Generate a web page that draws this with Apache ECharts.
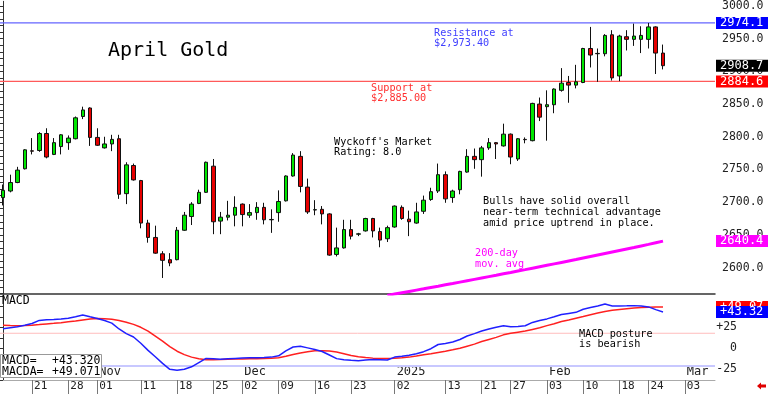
<!DOCTYPE html>
<html><head><meta charset="utf-8">
<script src="https://cdn.jsdelivr.net/npm/echarts@6/dist/echarts.min.js"></script>
<style>html,body{margin:0;padding:0;background:#fff}#c{width:768px;height:394px}</style>
</head><body><div id="c"></div>
<script>
// ---- DATA ----
const dates = [
 '2024-10-15','2024-10-16','2024-10-17','2024-10-18','2024-10-21','2024-10-22','2024-10-23','2024-10-24','2024-10-25','2024-10-28','2024-10-29','2024-10-30','2024-10-31',
 '2024-11-01','2024-11-04','2024-11-05','2024-11-06','2024-11-07','2024-11-08','2024-11-11','2024-11-12','2024-11-13','2024-11-14','2024-11-15','2024-11-18','2024-11-19','2024-11-20','2024-11-21','2024-11-22','2024-11-25','2024-11-26','2024-11-27','2024-11-29',
 '2024-12-02','2024-12-03','2024-12-04','2024-12-05','2024-12-06','2024-12-09','2024-12-10','2024-12-11','2024-12-12','2024-12-13','2024-12-16','2024-12-17','2024-12-18','2024-12-19','2024-12-20','2024-12-23','2024-12-24','2024-12-26','2024-12-27','2024-12-30','2024-12-31',
 '2025-01-02','2025-01-03','2025-01-06','2025-01-07','2025-01-08','2025-01-09','2025-01-10','2025-01-13','2025-01-14','2025-01-15','2025-01-16','2025-01-17','2025-01-21','2025-01-22','2025-01-23','2025-01-24','2025-01-27','2025-01-28','2025-01-29','2025-01-30','2025-01-31',
 '2025-02-03','2025-02-04','2025-02-05','2025-02-06','2025-02-07','2025-02-10','2025-02-11','2025-02-12','2025-02-13','2025-02-14','2025-02-18','2025-02-19','2025-02-20','2025-02-21','2025-02-24','2025-02-25','2025-02-26',
 '2025-02-27','2025-02-28','2025-03-03','2025-03-04','2025-03-05','2025-03-06'
];
// [open, close, low, high]
const ohlc = [
 [2707,2718,2695,2727],[2717,2730,2715,2742],[2730,2749,2729,2754],[2751,2780,2750,2781],[2778.5,2778,2773,2798],
 [2779,2805,2777,2807],[2805,2769,2767,2813],[2773,2791,2772,2798],[2785,2803,2773,2804],[2791,2798,2780,2802],
 [2797,2829,2796,2831],[2831,2841,2827,2846],[2844,2799,2786,2845],[2799,2787,2786,2813],[2783,2789,2782,2800],
 [2789,2796,2778,2803],[2797,2712,2705,2803],[2713,2757,2697,2761],[2756,2734,2733,2759],[2733,2668,2660,2734],
 [2668,2646,2638,2673],[2646,2622,2621,2664],[2621,2611,2584,2625],[2612,2607,2602,2622],[2612,2657,2611,2662],
 [2657,2680,2656,2685],[2678,2697,2665,2700],[2698,2715,2697,2719],[2715,2761,2714,2762],[2755,2670,2651,2766],
 [2671,2677,2651,2685],[2677,2680,2672,2702],[2680,2692,2663,2709],[2697,2681,2663,2698],[2680,2684,2676,2697],
 [2684,2692,2673,2700],[2692,2673,2666,2699],[2673,2673.5,2653,2689],[2684,2701,2670,2718],[2702,2740,2701,2741],
 [2740,2772,2739,2775],[2770,2724,2715,2778],[2723,2685,2682,2736],[2688,2688.5,2680,2703],[2689,2682,2666,2694],
 [2682,2619,2618,2683],[2620,2630,2617,2661],[2630,2658,2629,2673],[2658,2648,2643,2673],[2651,2651.5,2648,2653],
 [2656,2675,2655,2676],[2675,2656,2646,2676],[2655,2642,2631,2661],[2644,2661,2639,2664],[2662,2694,2661,2695],
 [2692,2675,2673,2695],[2674,2670,2648,2687],[2668,2685,2667,2699],[2686,2703,2682,2710],[2704,2716,2702,2722],
 [2717,2742,2714,2759],[2742,2705,2699,2747],[2707,2717,2699,2719],[2719,2747,2712,2748],[2746,2770,2745,2781],
 [2770,2765,2751,2782],[2765,2783,2739,2786],[2783,2791,2780,2798],[2791,2789,2766,2792],[2786,2804,2785,2820],
 [2804,2769,2758,2805],[2766,2797,2763,2798],[2796,2795.5,2790,2799],[2794,2851,2793,2852],[2850,2830,2824,2860],
 [2846,2849,2794,2871],[2849,2873,2836,2874],[2871,2882,2869,2905],[2883,2879,2852,2893],[2879,2884,2874,2910],
 [2883,2935,2882,2936],[2935,2925,2906,2968],[2927,2927.5,2884,2935],[2927,2955,2923,2957],[2956,2890,2886,2963],
 [2893,2954,2885,2956],[2953,2949,2932,2963],[2949,2954,2939,2973],[2949,2955,2928,2969],[2949,2968,2935,2974.1],
 [2968,2928,2896,2969],[2928,2908.7,2903,2941]
];
const ma200FirstDate = '2024-12-31';
const ma200 = [2557.3,2559.4,2561.4,2563.4,2565.4,2567.4,2569.5,2571.5,2573.6,2575.6,2577.7,2579.8,2581.9,2584.0,2586.1,
 2588.2,2590.4,2592.5,2594.7,2596.8,2599.0,2601.2,2603.4,2605.6,2607.8,2610.0,2612.2,2614.5,2616.8,2619.1,2621.4,
 2623.7,2626.0,2628.3,2630.6,2633.0,2635.4,2637.9,2640.4];
const macd = [23.3,24.5,25.7,27.5,29.5,33.2,34,34.3,35,35.8,37.5,39.6,37.5,35.5,33,30,23,17.5,13.5,6,
 -2.5,-10,-18,-25,-26,-25,-22,-17,-12,-12.5,-13,-12.5,-12,-11.5,-11.3,-11.2,-11,-10.5,-9,-3,
 1.5,2.5,0.5,-1.5,-3.8,-8,-12.3,-13.5,-14.2,-14.7,-14,-13.4,-13.6,-14,-10.5,-9.5,-8.3,-6.5,-4,-0.5,
 4.5,5.8,7.5,10.5,14.6,17.5,20.5,23,25,26.9,25.7,26,26.9,30.8,33,35,37.5,40.2,41.5,42.8,
 46.5,48.5,50.4,52.7,50.4,50.5,50.6,50.8,50.3,49.3,46,43.32];
const macdSignal = [27.5,27,26.8,27,27.5,28.2,29,29.7,30.5,31.5,32.5,33.8,34.8,35.5,35.3,34.5,33,31,28.5,25,
 20.5,14.5,8.5,2,-3.5,-7.5,-10.5,-12.5,-13.5,-13.5,-13.3,-13,-12.8,-12.7,-12.5,-12.3,-12,-11.8,-11.3,-9.5,
 -7.5,-5.5,-4,-3,-2.8,-3.2,-4.5,-6.5,-8.5,-10,-11,-11.7,-12,-12.2,-11.8,-11.3,-10.5,-9.2,-7.8,-6.5,
 -5,-3.5,-1.8,0,2.5,5,8,10.5,13,16,17.8,19.2,20.5,22.5,24.5,27,29.3,31.8,33.7,35.8,
 37.8,40,42,43.8,45.2,46.3,47.2,48,48.6,49,49.2,49.071];
const resistance = 2974.1, support = 2884.6;
const macdRefLines = [17.9, -21];
const priceTicks = [2600,2650,2700,2750,2800,2850,2900,2950,3000];
const macdTicks = [-25,0,25];
const tickDates = ['2024-10-21','2024-10-28','2024-11-01','2024-11-11','2024-11-18','2024-11-25','2024-12-02','2024-12-09','2024-12-16','2024-12-23','2025-01-02','2025-01-13','2025-01-21','2025-01-27','2025-02-03','2025-02-10','2025-02-18','2025-02-24','2025-03-03'];
const monthMarks = [['2024-11-01','Nov'],['2024-12-02','Dec'],['2025-01-02','2025'],['2025-02-03','Feb'],['2025-03-03','Mar']];

// ---- BUILD ----
const MONO = '"DejaVu Sans Mono", monospace';
const NONE = 'rgba(0,0,0,0)';
const xMin = -0.4136, xMax = 98.17;
const candleData = ohlc.map((d, i) => [i, d[0], d[1], d[2], d[3]]);
const maStart = dates.indexOf(ma200FirstDate);
const maData = ma200.map((v, k) => [maStart + k, v]);
const macdData = macd.map((v, i) => [i, v]);
const sigData = macdSignal.map((v, i) => [i, v]);
const tickIdx = tickDates.map(d => dates.indexOf(d));
const monthIdx = monthMarks.map(m => dates.indexOf(m[0]));
const monthText = {}; monthMarks.forEach((m, k) => monthText[monthIdx[k]] = m[1]);
const priceMinor = []; for (let v = 2560; v <= 3000; v += 10) priceMinor.push(v);
const macdMinor = []; for (let v = -37.5; v <= 63; v += 12.5) macdMinor.push(v);
const lastClose = ohlc[ohlc.length - 1][1];
const lastMA = ma200[ma200.length - 1];
const lastMacd = macd[macd.length - 1], lastSig = macdSignal[macdSignal.length - 1];

function endLabel(bg, txt) {
  return { show: true, position: 'end', distance: 1, formatter: txt, backgroundColor: bg, color: '#fff',
    fontFamily: MONO, fontSize: 12, padding: [0, 8, 0, 4], lineHeight: 12 };
}
// horizontal level drawn as a line series across the whole axis range
function hLine(xi, yi, value, color, width, z) {
  return { type: 'line', xAxisIndex: xi, yAxisIndex: yi, data: [[xMin, value], [xMax, value]], symbol: 'none', z: z,
    silent: true, lineStyle: { color: color, width: width, type: 'solid' } };
}
// value tag at right edge (label only)
function tag(xi, yi, value, bg, txt, z) {
  return { type: 'line', xAxisIndex: xi, yAxisIndex: yi, data: [], symbol: 'none', z: z,
    markLine: { silent: true, symbol: ['none', 'none'], animation: false,
      lineStyle: { color: NONE, width: 0 }, label: endLabel(bg, txt), data: [{ yAxis: value }] } };
}

const chart = echarts.init(document.getElementById('c'), null, { renderer: 'canvas' });
chart.setOption({
  animation: false,
  backgroundColor: '#fff',
  grid: [
    { left: 0, right: 53, top: 0, height: 294 },
    { left: 0, right: 53, top: 295, height: 85 }
  ],
  xAxis: [
    { gridIndex: 0, type: 'value', min: xMin, max: xMax, axisLine: { show: true, onZero: false, lineStyle: { color: '#333', width: 1.5 } },
      axisTick: { show: false }, axisLabel: { show: false }, splitLine: { show: false } },
    { gridIndex: 1, type: 'value', min: xMin, max: xMax, position: 'bottom',
      axisLine: { show: true, onZero: false, lineStyle: { color: '#aaa', width: 1 } },
      axisTick: { show: true, customValues: tickIdx, length: 14, lineStyle: { color: '#777' } },
      axisLabel: { customValues: tickIdx, formatter: v => dates[v].slice(8), align: 'left', margin: 1, padding: [0, 0, 0, 2],
        fontFamily: MONO, fontSize: 11, color: '#222' },
      splitLine: { show: false } },
    { gridIndex: 1, type: 'value', min: xMin, max: xMax, position: 'bottom', offset: -16,
      axisLine: { show: false }, axisTick: { show: false },
      axisLabel: { customValues: monthIdx, formatter: v => monthText[v], align: 'left', margin: 2, padding: [0, 0, 0, 2],
        fontFamily: MONO, fontSize: 12, color: '#222' },
      splitLine: { show: false } }
  ],
  yAxis: [
    { gridIndex: 0, type: 'value', position: 'right', min: 2559.5, max: 3007.2,
      axisLine: { show: true, lineStyle: { color: '#333' } },
      axisTick: { show: true, inside: true, length: 3, customValues: priceMinor, lineStyle: { color: '#333' } },
      axisLabel: { customValues: priceTicks, formatter: v => v.toFixed(1), margin: 7, fontFamily: MONO, fontSize: 11.5, color: '#222' },
      splitLine: { show: false } },
    { gridIndex: 1, type: 'value', position: 'right', min: -37.74, max: 63.45,
      axisLine: { show: true, lineStyle: { color: '#333' } },
      axisTick: { show: true, inside: true, length: 3, customValues: macdMinor, lineStyle: { color: '#333' } },
      axisLabel: { customValues: macdTicks, formatter: v => (v > 0 ? '+' + v : String(v)), align: 'right', margin: 22,
        fontFamily: MONO, fontSize: 11.5, color: '#222' },
      splitLine: { show: false } }
  ],
  series: [
    hLine(0, 0, resistance, '#6464ff', 1.2, 1),
    hLine(0, 0, support, '#ff5a5a', 1.2, 1),
    { type: 'line', xAxisIndex: 0, yAxisIndex: 0, data: maData, symbol: 'none', clip: true, z: 2,
      lineStyle: { color: '#ff00ff', width: 3 } },
    { type: 'candlestick', xAxisIndex: 0, yAxisIndex: 0, data: candleData, encode: { x: 0, y: [1, 2, 3, 4] },
      barWidth: 4, z: 3,
      itemStyle: { color: '#00e600', color0: '#e60000', borderColor: '#111', borderColor0: '#111', borderWidth: 1 } },
    tag(0, 0, resistance, '#0000ff', resistance.toFixed(1), 4),
    tag(0, 0, support, '#ff0000', support.toFixed(1), 4),
    tag(0, 0, lastMA, '#ff00ff', lastMA.toFixed(1), 4),
    tag(0, 0, lastClose, '#000000', lastClose.toFixed(1), 5),
    hLine(1, 1, macdRefLines[0], '#ffbcbc', 1, 1),
    hLine(1, 1, macdRefLines[1], '#c8c8ff', 2, 1),
    { type: 'line', xAxisIndex: 1, yAxisIndex: 1, data: sigData, symbol: 'none', z: 2,
      lineStyle: { color: '#ff2020', width: 1.5 } },
    { type: 'line', xAxisIndex: 1, yAxisIndex: 1, data: macdData, symbol: 'none', z: 3,
      lineStyle: { color: '#2020ff', width: 1.5 } },
    tag(1, 1, lastSig, '#ff0000', '+' + lastSig.toFixed(2), 4),
    tag(1, 1, lastMacd, '#0000ff', '+' + lastMacd.toFixed(2), 5)
  ],
  graphic: [
    { type: 'text', x: 108, y: 41, z: 50, style: { text: 'April Gold', font: '20px ' + MONO, fill: '#000' } },
    { type: 'text', x: 434, y: 28, z: 50, style: { text: 'Resistance at\n$2,973.40', font: '10.2px ' + MONO, lineHeight: 10.5, fill: '#4040ff' } },
    { type: 'text', x: 371, y: 83.5, z: 50, style: { text: 'Support at\n$2,885.00', font: '10.2px ' + MONO, lineHeight: 10.2, fill: '#ff3030' } },
    { type: 'text', x: 334, y: 137.5, z: 50, style: { text: "Wyckoff's Market\nRating: 8.0", font: '10.2px ' + MONO, lineHeight: 10.2, fill: '#000' } },
    { type: 'text', x: 483, y: 195.5, z: 50, style: { text: 'Bulls have solid overall\nnear-term technical advantage\namid price uptrend in place.', font: '10.2px ' + MONO, lineHeight: 11.2, fill: '#000' } },
    { type: 'text', x: 475, y: 247.5, z: 50, style: { text: '200-day\nmov. avg', font: '10.2px ' + MONO, lineHeight: 11, fill: '#ff00ff' } },
    { type: 'text', x: 579, y: 329, z: 50, style: { text: 'MACD posture\nis bearish', font: '10.2px ' + MONO, lineHeight: 10, fill: '#000' } },
    { type: 'text', x: 2, y: 295.5, z: 50, style: { text: 'MACD', font: '11.5px ' + MONO, fill: '#000' } },
    { type: 'rect', z: 100, shape: { x: 0.5, y: 354.5, width: 101, height: 23 }, style: { fill: '#fff', stroke: '#999', lineWidth: 1 } },
    { type: 'text', x: 2, y: 355.5, z: 101, style: { text: 'MACD=\nMACDA=', font: '11.5px ' + MONO, lineHeight: 11, fill: '#000' } },
    { type: 'text', x: 52, y: 355.5, z: 101, style: { text: '+' + lastMacd.toFixed(3) + '\n+' + lastSig.toFixed(3), font: '11.5px ' + MONO, lineHeight: 11, fill: '#000' } },
    { type: 'polygon', z: 50, shape: { points: [[757, 386], [761, 382.5], [761, 384.5], [766, 384.5], [766, 387.5], [761, 387.5], [761, 389.5]] }, style: { fill: '#e00000' } }
  ]
});
</script>
</body></html>
